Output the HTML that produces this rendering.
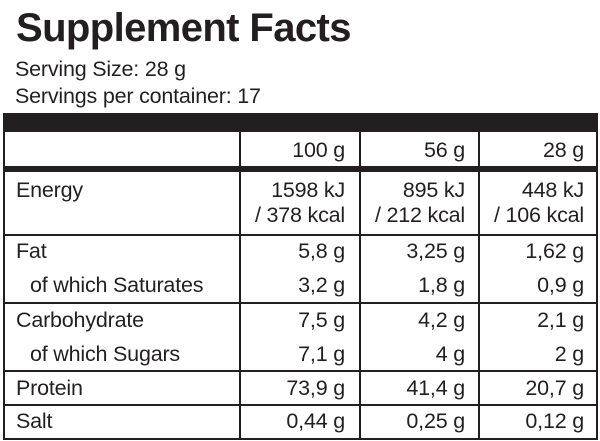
<!DOCTYPE html>
<html><head><style>
body{margin:0;width:600px;height:441px;background:#fff;position:relative;overflow:hidden;font-family:"Liberation Sans",sans-serif;color:#231f20}
.a{position:absolute;white-space:nowrap}
.t{font-size:21.5px;letter-spacing:-0.2px}
.r{text-align:right}
.h{position:absolute;background:#231f20}
</style></head><body>
<div class="a" style="left:16px;top:6px;font-size:40px;font-weight:bold;letter-spacing:-0.6px">Supplement Facts</div>
<div class="a t" style="left:15px;top:57px">Serving Size: 28 g</div>
<div class="a t" style="left:15px;top:84px">Servings per container: 17</div>
<div class="h" style="left:3px;top:113px;width:595px;height:19px"></div>
<div class="h" style="left:3px;top:113px;width:2px;height:327px"></div>
<div class="h" style="left:596px;top:113px;width:2px;height:327px"></div>
<div class="h" style="left:3px;top:438px;width:595px;height:2px"></div>
<div class="h" style="left:3px;top:166px;width:595px;height:6px"></div>
<div class="h" style="left:3px;top:234px;width:595px;height:2px"></div>
<div class="h" style="left:3px;top:302px;width:595px;height:2px"></div>
<div class="h" style="left:3px;top:370px;width:595px;height:2px"></div>
<div class="h" style="left:3px;top:404px;width:595px;height:2px"></div>
<div class="h" style="left:239px;top:131px;width:2px;height:308px"></div>
<div class="h" style="left:359px;top:131px;width:2px;height:308px"></div>
<div class="h" style="left:478px;top:131px;width:2px;height:308px"></div>
<div class="a t" style="left:16px;top:178px">Energy</div>
<div class="a t" style="left:16px;top:239px">Fat</div>
<div class="a t" style="left:30px;top:273px">of which Saturates</div>
<div class="a t" style="left:16px;top:308px">Carbohydrate</div>
<div class="a t" style="left:30px;top:342px">of which Sugars</div>
<div class="a t" style="left:16px;top:376px">Protein</div>
<div class="a t" style="left:16px;top:409px">Salt</div>
<div class="a t r" style="right:255px;top:138px">100 g</div>
<div class="a t r" style="right:135px;top:138px">56 g</div>
<div class="a t r" style="right:16px;top:138px">28 g</div>
<div class="a t r" style="right:255px;top:178px;line-height:25px">1598 kJ<br>/ 378 kcal</div>
<div class="a t r" style="right:135px;top:178px;line-height:25px">895 kJ<br>/ 212 kcal</div>
<div class="a t r" style="right:16px;top:178px;line-height:25px">448 kJ<br>/ 106 kcal</div>
<div class="a t r" style="right:255px;top:239px">5,8 g</div>
<div class="a t r" style="right:135px;top:239px">3,25 g</div>
<div class="a t r" style="right:16px;top:239px">1,62 g</div>
<div class="a t r" style="right:255px;top:273px">3,2 g</div>
<div class="a t r" style="right:135px;top:273px">1,8 g</div>
<div class="a t r" style="right:16px;top:273px">0,9 g</div>
<div class="a t r" style="right:255px;top:308px">7,5 g</div>
<div class="a t r" style="right:135px;top:308px">4,2 g</div>
<div class="a t r" style="right:16px;top:308px">2,1 g</div>
<div class="a t r" style="right:255px;top:342px">7,1 g</div>
<div class="a t r" style="right:135px;top:342px">4 g</div>
<div class="a t r" style="right:16px;top:342px">2 g</div>
<div class="a t r" style="right:255px;top:376px">73,9 g</div>
<div class="a t r" style="right:135px;top:376px">41,4 g</div>
<div class="a t r" style="right:16px;top:376px">20,7 g</div>
<div class="a t r" style="right:255px;top:409px">0,44 g</div>
<div class="a t r" style="right:135px;top:409px">0,25 g</div>
<div class="a t r" style="right:16px;top:409px">0,12 g</div>
</body></html>
